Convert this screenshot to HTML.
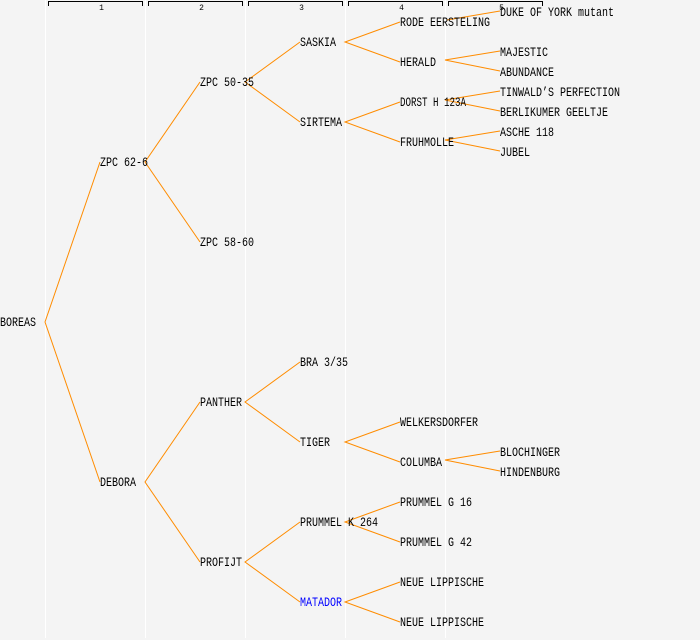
<!DOCTYPE html>
<html><head><meta charset="utf-8"><style>
html,body{margin:0;padding:0;background:#f4f4f4;}
svg{display:block}
text{font-family:"Liberation Mono",monospace;font-size:12.5px;fill:#000}
</style></head><body>
<svg width="700" height="640" viewBox="0 0 700 640" xmlns="http://www.w3.org/2000/svg">
<rect width="700" height="640" fill="#f4f4f4"/>
<g stroke="#ffffff" stroke-width="1">
<line x1="45.5" y1="0" x2="45.5" y2="638"/><line x1="145.5" y1="0" x2="145.5" y2="638"/>
<line x1="245.5" y1="0" x2="245.5" y2="638"/><line x1="345.5" y1="0" x2="345.5" y2="638"/>
<line x1="445.5" y1="0" x2="445.5" y2="638"/>
</g>
<g stroke="#000" stroke-width="1" fill="none">
<path d="M48.5 6V1.5H142.5V6"/><path d="M148.5 6V1.5H242.5V6"/><path d="M248.5 6V1.5H342.5V6"/><path d="M348.5 6V1.5H442.5V6"/><path d="M448.5 6V1.5H542.5V6"/>
</g>
<g>
<text x="101.5" y="10" text-anchor="middle" style="font-size:8px">1</text>
<text x="201.5" y="10" text-anchor="middle" style="font-size:8px">2</text>
<text x="301.5" y="10" text-anchor="middle" style="font-size:8px">3</text>
<text x="401.5" y="10" text-anchor="middle" style="font-size:8px">4</text>
<text x="501.5" y="10" text-anchor="middle" style="font-size:8px">5</text>
</g>
<g stroke="#ff8c00" stroke-width="1" fill="none">
<path d="M100 162L45 322L100 482"/>
<path d="M200 82L145 162L200 242"/>
<path d="M200 402L145 482L200 562"/>
<path d="M300 42L245 82L300 122"/>
<path d="M300 362L245 402L300 442"/>
<path d="M300 522L245 562L300 602"/>
<path d="M400 22L345 42L400 62"/>
<path d="M400 102L345 122L400 142"/>
<path d="M400 422L345 442L400 462"/>
<path d="M400 502L345 522L400 542"/>
<path d="M400 582L345 602L400 622"/>
<path d="M500 11L447 20"/>
<path d="M500 51L445 60L500 71"/>
<path d="M500 91L445 100L500 111"/>
<path d="M500 131L445 140L500 151"/>
<path d="M500 451L445 460L500 471"/>
</g>
<g>
<text x="0" y="326" textLength="36" lengthAdjust="spacingAndGlyphs">BOREAS</text>
<text x="100" y="166" textLength="48" lengthAdjust="spacingAndGlyphs">ZPC 62-6</text>
<text x="100" y="486" textLength="36" lengthAdjust="spacingAndGlyphs">DEBORA</text>
<text x="200" y="86" textLength="54" lengthAdjust="spacingAndGlyphs">ZPC 50-35</text>
<text x="200" y="246" textLength="54" lengthAdjust="spacingAndGlyphs">ZPC 58-60</text>
<text x="200" y="406" textLength="42" lengthAdjust="spacingAndGlyphs">PANTHER</text>
<text x="200" y="566" textLength="42" lengthAdjust="spacingAndGlyphs">PROFIJT</text>
<text x="300" y="46" textLength="36" lengthAdjust="spacingAndGlyphs">SASKIA</text>
<text x="300" y="126" textLength="42" lengthAdjust="spacingAndGlyphs">SIRTEMA</text>
<text x="300" y="366" textLength="48" lengthAdjust="spacingAndGlyphs">BRA 3/35</text>
<text x="300" y="446" textLength="30" lengthAdjust="spacingAndGlyphs">TIGER</text>
<text x="300" y="526" textLength="78" lengthAdjust="spacingAndGlyphs">PRUMMEL K 264</text>
<text x="300" y="606" textLength="42" lengthAdjust="spacingAndGlyphs" style="fill:#0000ff">MATADOR</text>
<text x="400" y="26" textLength="90" lengthAdjust="spacingAndGlyphs">RODE EERSTELING</text>
<text x="400" y="66" textLength="36" lengthAdjust="spacingAndGlyphs">HERALD</text>
<text x="400" y="106" textLength="66" lengthAdjust="spacingAndGlyphs">DORST H 123A</text>
<text x="400" y="146" textLength="54" lengthAdjust="spacingAndGlyphs">FRUHMOLLE</text>
<text x="400" y="426" textLength="78" lengthAdjust="spacingAndGlyphs">WELKERSDORFER</text>
<text x="400" y="466" textLength="42" lengthAdjust="spacingAndGlyphs">COLUMBA</text>
<text x="400" y="506" textLength="72" lengthAdjust="spacingAndGlyphs">PRUMMEL G 16</text>
<text x="400" y="546" textLength="72" lengthAdjust="spacingAndGlyphs">PRUMMEL G 42</text>
<text x="400" y="586" textLength="84" lengthAdjust="spacingAndGlyphs">NEUE LIPPISCHE</text>
<text x="400" y="626" textLength="84" lengthAdjust="spacingAndGlyphs">NEUE LIPPISCHE</text>
<text x="500" y="16" textLength="114" lengthAdjust="spacingAndGlyphs">DUKE OF YORK mutant</text>
<text x="500" y="56" textLength="48" lengthAdjust="spacingAndGlyphs">MAJESTIC</text>
<text x="500" y="76" textLength="54" lengthAdjust="spacingAndGlyphs">ABUNDANCE</text>
<text x="500" y="96" textLength="120" lengthAdjust="spacingAndGlyphs">TINWALD’S PERFECTION</text>
<text x="500" y="116" textLength="108" lengthAdjust="spacingAndGlyphs">BERLIKUMER GEELTJE</text>
<text x="500" y="136" textLength="54" lengthAdjust="spacingAndGlyphs">ASCHE 118</text>
<text x="500" y="156" textLength="30" lengthAdjust="spacingAndGlyphs">JUBEL</text>
<text x="500" y="456" textLength="60" lengthAdjust="spacingAndGlyphs">BLOCHINGER</text>
<text x="500" y="476" textLength="60" lengthAdjust="spacingAndGlyphs">HINDENBURG</text>
</g>
</svg>
</body></html>
